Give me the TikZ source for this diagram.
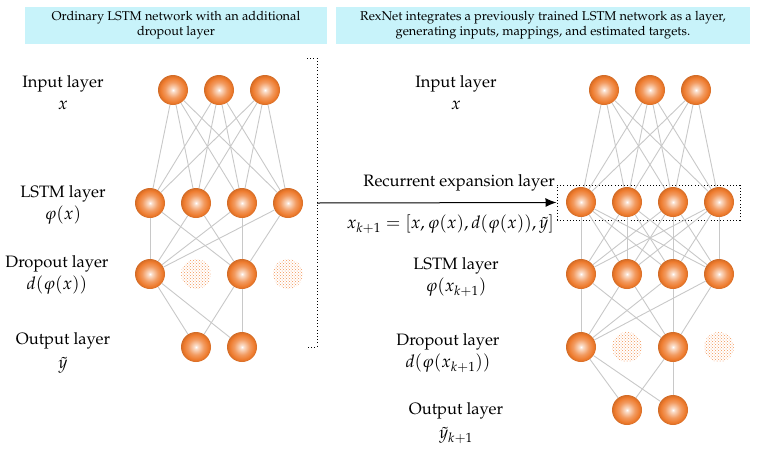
\documentclass[tikz,border=0pt]{standalone}
\usepackage[T1]{fontenc}
\usepackage{mathpazo}
\usetikzlibrary{patterns,arrows.meta}

\definecolor{ballorange}{RGB}{238,122,44}
\definecolor{headcyan}{RGB}{200,243,250}
\definecolor{linkgray}{RGB}{200,200,200}

\pgfdeclareradialshading{orb}{\pgfpoint{0bp}{0bp}}{%
  color(0bp)=(white); color(3bp)=(white!75!ballorange);
  color(13bp)=(ballorange!75!white); color(21bp)=(ballorange);
  color(25bp)=(ballorange!88!black); color(50bp)=(ballorange!88!black)}

% math in the layer labels is set a little larger than the words
\newcommand{\labmath}[1]{{\fontsize{17.5}{20}\selectfont$#1$}}

\tikzset{
  neuron/.style={circle, minimum size=30pt, inner sep=0pt, shading=orb},
  dropped/.style={circle, minimum size=30pt, inner sep=0pt,
    pattern=crosshatch dots, pattern color=ballorange!80},
  link/.style={draw=linkgray, line width=0.9pt},
  lbl/.style={font=\fontsize{16.5}{22}\selectfont, align=center, inner sep=0pt},
  head/.style={fill=headcyan, align=center, inner sep=0pt,
    font=\fontsize{12.8}{15}\selectfont},
  dots line/.style={line width=1pt, dash pattern=on 1pt off 2.2pt},
}

\begin{document}
\begin{tikzpicture}[x=1pt, y=-1pt]
\useasboundingbox (0,0) rectangle (758,448);

% headers
\node[head, minimum width=302pt, minimum height=37pt] (hleft) at (176,25.5)
  {Ordinary LSTM network with an additional\\dropout layer};
\node[head, minimum width=414pt, minimum height=37pt] (hright) at (543,25.5)
  {RexNet integrates a previously trained LSTM network as a layer,\\
   generating inputs, mappings, and estimated targets.};

% left network
\foreach \x [count=\i] in {173,219,265}
  \node[neuron] (li\i) at (\x,90) {};
\foreach \x [count=\i] in {150,196,242,288}
  \node[neuron] (ll\i) at (\x,203) {};
\node[neuron]  (ld1) at (150,274) {};
\node[dropped] (ld2) at (196,274) {};
\node[neuron]  (ld3) at (242,274) {};
\node[dropped] (ld4) at (288,274) {};
\node[neuron] (lo1) at (196,347) {};
\node[neuron] (lo2) at (242,347) {};

% right network
\foreach \x [count=\i] in {604,650,696}
  \node[neuron] (ri\i) at (\x,90) {};
\foreach \x [count=\i] in {581,627,673,719} {
  \node[neuron] (rr\i) at (\x,202) {};
  \node[neuron] (rl\i) at (\x,274) {};
}
\node[neuron]  (rd1) at (581,347) {};
\node[dropped] (rd2) at (627,347) {};
\node[neuron]  (rd3) at (673,347) {};
\node[dropped] (rd4) at (719,347) {};
\node[neuron] (ro1) at (627,410) {};
\node[neuron] (ro2) at (673,410) {};

% layer labels
\node[lbl] (lin)  at (63,93)  {Input layer\\\labmath{x}};
\node[lbl] (llstm) at (63,205) {LSTM layer\\\labmath{\varphi(x)}};
\node[lbl] (ldrop) at (57,275) {Dropout layer\\\labmath{d(\varphi(x))}};
\node[lbl] (lout) at (63,353) {Output layer\\[2pt]\labmath{\tilde{y}}};

\node[lbl] (rin)  at (456,93)  {Input layer\\\labmath{x}};
\node[lbl] (rlstm) at (456,277) {LSTM layer\\\labmath{\varphi(x_{k+1})}};
\node[lbl] (rdrop) at (448,353) {Dropout layer\\\labmath{d(\varphi(x_{k+1}))}};
\node[lbl] (rout) at (456,423) {Output layer\\[2pt]\labmath{\tilde{y}_{k+1}}};

% recurrent expansion
\node[draw, dots line, minimum width=183pt, minimum height=35pt, inner sep=0pt]
  (recbox) at (648.5,202.5) {};
\node[lbl, anchor=east] (reclbl) at (555,183) {Recurrent expansion layer};
\node[lbl, anchor=east] (xnext) at (554,224)
  {\labmath{x_{k+1}=[x,\varphi(x),d(\varphi(x)),\tilde{y}]}};

% dotted bracket
\coordinate (brtop) at (307,58);
\coordinate (brmid) at (317,203);
\coordinate (brbot) at (307,347);
\draw[dots line] (brtop) -- (brtop -| brmid) -- (brbot -| brmid) -- (brbot);
\draw[line width=1pt, -{Latex[length=11pt, width=9pt]}] (brmid) -- (recbox.west);

% connections
\begin{scope}[link]
  \foreach \i in {1,2,3}
    \foreach \j in {1,2,3,4} {
      \draw (li\i) -- (ll\j);
      \draw (ri\i) -- (rr\j);
    }
  \foreach \i in {1,2,3,4}
    \foreach \j in {1,2,3,4}
      \draw (rr\i) -- (rl\j);
  \foreach \i in {1,2,3,4}
    \foreach \j in {1,3} {
      \draw (ll\i) -- (ld\j);
      \draw (rl\i) -- (rd\j);
    }
  \foreach \i in {1,3}
    \foreach \j in {1,2} {
      \draw (ld\i) -- (lo\j);
      \draw (rd\i) -- (ro\j);
    }
\end{scope}

\end{tikzpicture}
\end{document}
